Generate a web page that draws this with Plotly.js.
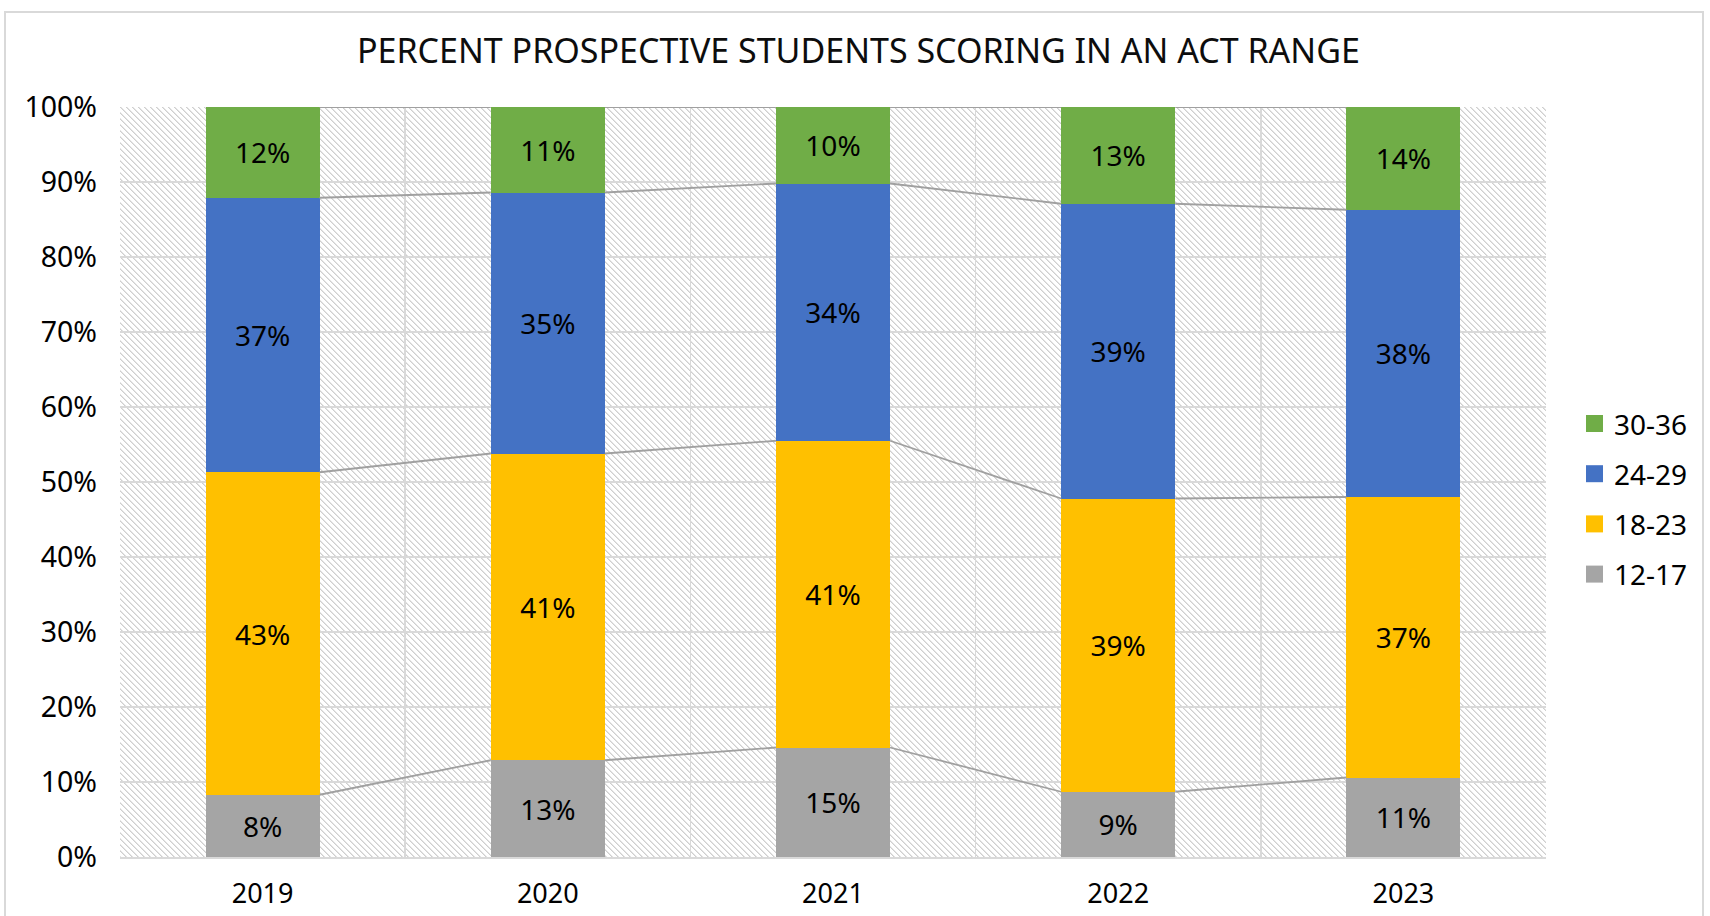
<!DOCTYPE html>
<html><head><meta charset="utf-8">
<script src="https://cdn.plot.ly/plotly-3.0.1.min.js"></script>
<style>
html,body{margin:0;padding:0;background:#fff;}
#wrap{position:relative;width:1710px;height:916px;overflow:hidden;}
#frame{position:absolute;left:4px;top:11px;width:1700px;height:920px;border:2px solid #d9d9d9;box-sizing:border-box;}
#hatch{position:absolute;}
#chart{position:absolute;left:0;top:0;width:1710px;height:916px;}
</style></head>
<body><div id="wrap"><div id="frame"></div><div id="hatch"></div><div id="chart"></div></div>
<script>
// ---- data ----
const years = ['2019', '2020', '2021', '2022', '2023'];
const range1217 = [8.3, 12.9, 14.6, 8.7, 10.6];
const range1823 = [43.0, 40.9, 40.9, 39.1, 37.4];
const range2429 = [36.6, 34.8, 34.3, 39.3, 38.3];
const range3036 = [12.1, 11.4, 10.2, 12.9, 13.7];
const seriesNames = ['12-17', '18-23', '24-29', '30-36'];
const yTickVals = [0, 10, 20, 30, 40, 50, 60, 70, 80, 90, 100];
const yTickText = ['0%', '10%', '20%', '30%', '40%', '50%', '60%', '70%', '80%', '90%', '100%'];

// ---- styles ----
const seriesColors = ['#A5A5A5', '#FFC000', '#4472C4', '#70AD47'];
const FONT = '"Noto Sans", "Open Sans", sans-serif';
const BAR_GAP = 0.6;
const HALF = (1 - BAR_GAP) / 2;
const W = 1710, H = 916;
const M = {l: 120, r: 164, t: 107, b: 59};
const PW = W - M.l - M.r, PH = H - M.t - M.b;
// legend geometry (pixels, page coordinates)
const LEG_SWATCH_X = 1594.5, LEG_TEXT_X = 1612, LEG_TOP_Y = 423.5, LEG_STEP = 50.2, LEG_SW = 17;

const seriesValues = [range1217, range1823, range2429, range3036];

const traces = [];
seriesValues.forEach((vals, k) => {
  traces.push({
    type: 'bar', x: years, y: vals, name: seriesNames[k],
    marker: {color: seriesColors[k], line: {width: 0}},
    texttemplate: '%{y:.0f}%', textposition: 'inside',
    insidetextanchor: 'middle', textangle: 0, constraintext: 'none',
    textfont: {family: FONT, size: 28, color: '#000000'},
    hoverinfo: 'skip', showlegend: false
  });
});

// series lines connecting segment tops between adjacent bars
let cum = years.map(() => 0);
seriesValues.forEach((vals) => {
  cum = cum.map((c, i) => c + vals[i]);
  const xs = [], ys = [];
  for (let i = 0; i < years.length - 1; i++) {
    xs.push(i + HALF, i + 1 - HALF, null);
    ys.push(cum[i], cum[i + 1], null);
  }
  traces.push({
    type: 'scatter', mode: 'lines', x: xs, y: ys, xaxis: 'x2', yaxis: 'y',
    line: {color: '#a0a0a0', width: 1.8}, showlegend: false, hoverinfo: 'skip', connectgaps: false
  });
});

// legend (top entry = last series)
const px2paperX = (px) => (px - M.l) / PW;
const px2paperY = (py) => (H - M.b - py) / PH;
const shapes = [], annotations = [];
for (let j = 0; j < seriesNames.length; j++) {
  const k = seriesNames.length - 1 - j;
  const cy = LEG_TOP_Y + j * LEG_STEP;
  shapes.push({type: 'rect', xref: 'paper', yref: 'paper', xsizemode: 'pixel', ysizemode: 'pixel',
    xanchor: px2paperX(LEG_SWATCH_X), yanchor: px2paperY(cy),
    x0: -LEG_SW / 2, x1: LEG_SW / 2, y0: -LEG_SW / 2, y1: LEG_SW / 2,
    fillcolor: seriesColors[k], line: {width: 0}});
  annotations.push({xref: 'paper', yref: 'paper', x: px2paperX(LEG_TEXT_X), y: px2paperY(cy),
    xanchor: 'left', yanchor: 'middle', showarrow: false, text: seriesNames[k],
    font: {family: FONT, size: 28, color: '#000000'}});
}

const layout = {
  width: W, height: H,
  paper_bgcolor: 'rgba(0,0,0,0)', plot_bgcolor: 'rgba(0,0,0,0)',
  margin: {l: M.l, r: M.r, t: M.t, b: M.b, pad: 0},
  barmode: 'stack', bargap: BAR_GAP,
  font: {family: FONT, color: '#000000', size: 28},
  title: {text: 'PERCENT PROSPECTIVE STUDENTS SCORING IN AN ACT RANGE',
          font: {family: FONT, size: 34, color: '#0d0d0d'},
          xref: 'container', x: 0.502, xanchor: 'center',
          yref: 'container', y: 1 - 51 / 916, yanchor: 'middle'},
  xaxis: {type: 'category', tickson: 'boundaries', showgrid: true, gridcolor: '#d9d9d9', gridwidth: 1.5,
          showline: true, linecolor: '#d9d9d9', linewidth: 2, ticks: '', ticklabelstandoff: 12,
          tickfont: {family: FONT, size: 27, color: '#000000'}, fixedrange: true},
  xaxis2: {type: 'linear', overlaying: 'x', range: [-0.5, years.length - 0.5], visible: false, fixedrange: true},
  yaxis: {range: [0, 100], tickmode: 'array', tickvals: yTickVals, ticktext: yTickText,
          showgrid: true, gridcolor: '#d9d9d9', gridwidth: 1.5,
          zeroline: false, showline: false, ticks: '', ticklabelstandoff: 22,
          tickfont: {family: FONT, size: 28.5, color: '#000000'}, fixedrange: true},
  shapes: shapes, annotations: annotations,
  showlegend: false, hovermode: false
};

// pixel-exact diagonal hatch tile for plot background
(function () {
  const T = 6;
  let rects = '';
  for (let i = 0; i < T; i++) {
    rects += `<rect x="${i}" y="${i}" width="1" height="1" fill="#cfcfcf"/>`;
    rects += `<rect x="${(i + 1) % T}" y="${i}" width="1" height="1" fill="#e4e4e4"/>`;
  }
  const svg = `<svg xmlns="http://www.w3.org/2000/svg" width="${T}" height="${T}" shape-rendering="crispEdges"><rect width="${T}" height="${T}" fill="#ffffff"/>${rects}</svg>`;
  const h = document.getElementById('hatch');
  h.style.backgroundImage = 'url("data:image/svg+xml;utf8,' + encodeURIComponent(svg) + '")';
  h.style.backgroundRepeat = 'repeat';
  h.style.left = M.l + 'px'; h.style.top = M.t + 'px';
  h.style.width = PW + 'px'; h.style.height = PH + 'px';
})();

Plotly.newPlot('chart', traces, layout, {staticPlot: true, displayModeBar: false});
</script>
</body></html>
